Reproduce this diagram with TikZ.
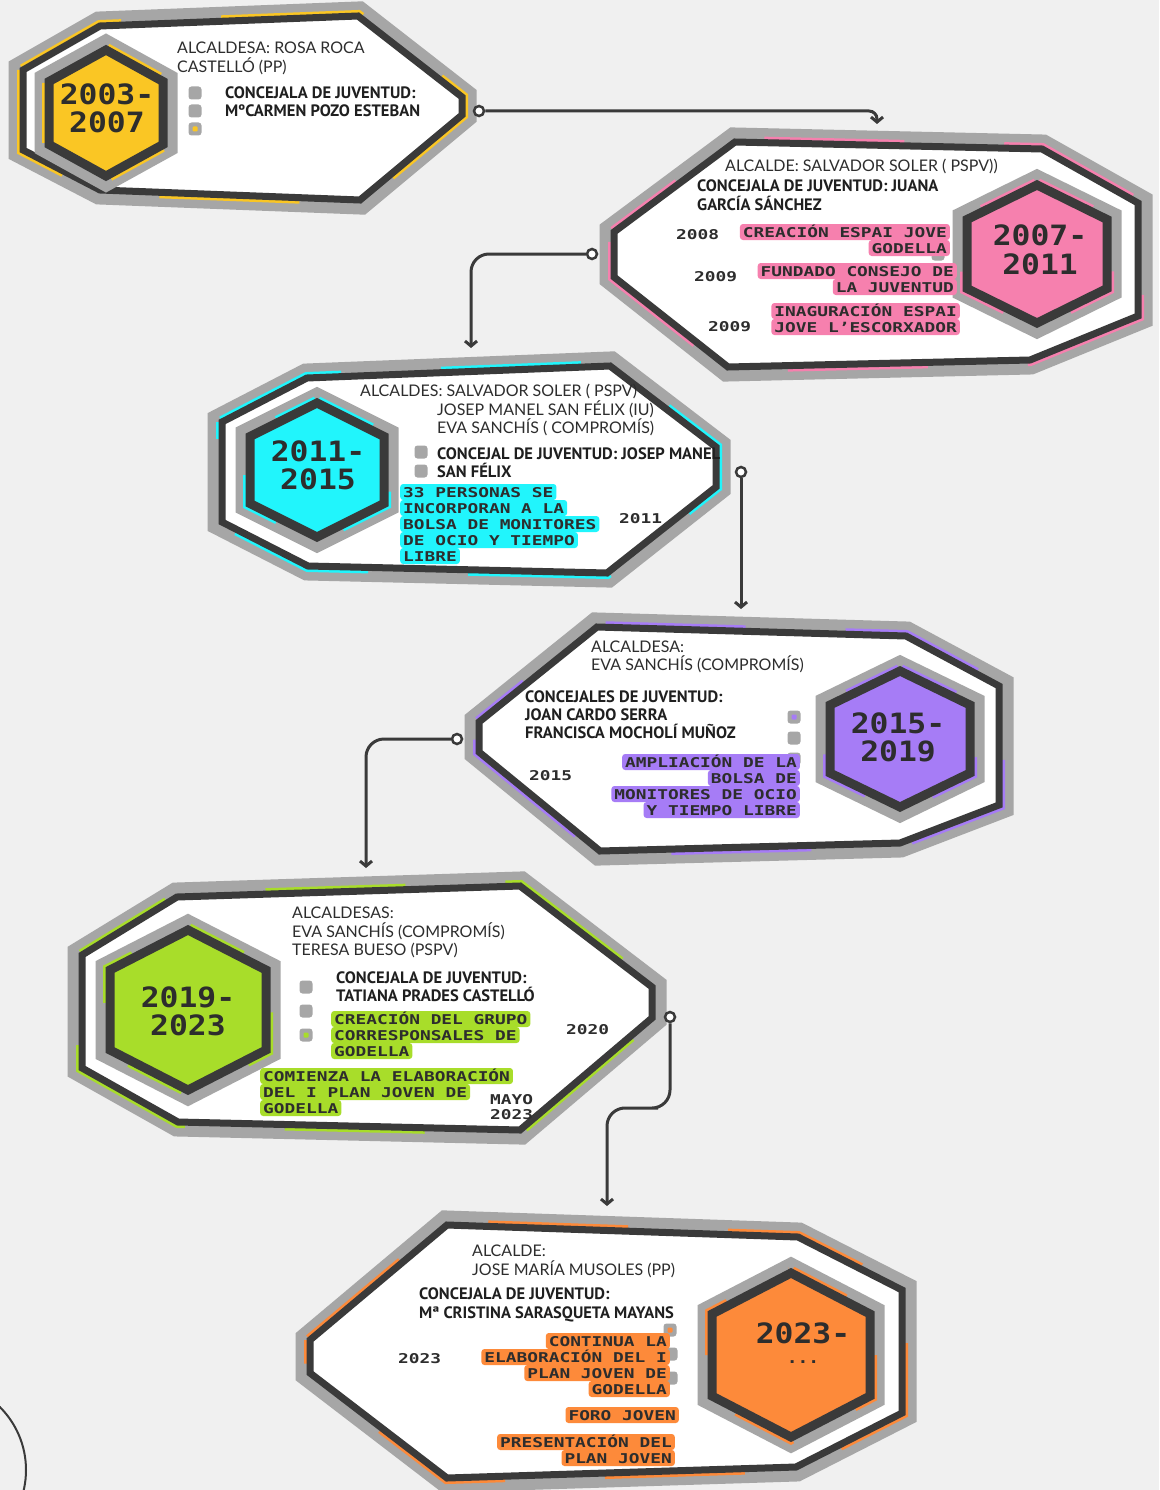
\documentclass[tikz,border=0pt]{standalone}
\usepackage{fontspec}
\setmainfont{Lato}
\newfontfamily\ptsans{PT Sans}
\newfontfamily\techf{DejaVu Sans Mono}[FakeStretch=1.32]
\newfontfamily\yearf{DejaVu Sans Mono}[FakeStretch=1.12]
\usetikzlibrary{arrows.meta}
\definecolor{bg}{RGB}{240,240,240}
\definecolor{bandgray}{RGB}{166,166,166}
\definecolor{darkband}{RGB}{58,58,58}
\definecolor{txt}{RGB}{45,45,45}
\definecolor{yel}{RGB}{250,198,36}
\definecolor{pnk}{RGB}{246,128,174}
\definecolor{cya}{RGB}{33,245,252}
\definecolor{pur}{RGB}{166,124,246}
\definecolor{grn}{RGB}{168,221,42}
\definecolor{org}{RGB}{253,138,58}
\newcommand\drawpanel[3]{%
 \draw[line width=29pt,draw=bandgray,line join=miter] #1 -- cycle;
 \draw[line width=12pt,draw=#2,dash pattern=on 140pt off 100pt,dash phase=#3] #1 -- cycle;
 \fill[white] #1 -- cycle;
 \draw[line width=7pt,draw=darkband,line join=miter] #1 -- cycle;}
\newcommand\drawbadge[5]{%
 \draw[line width=29pt,draw=bandgray,line join=miter] (#1,#2-#4) -- (#1+#3,#2-#4/2) -- (#1+#3,#2+#4/2) -- (#1,#2+#4) -- (#1-#3,#2+#4/2) -- (#1-#3,#2-#4/2) -- cycle;
 \draw[line width=14pt,draw=#5,dash pattern=on 60pt off 70pt] (#1,#2-#4) -- (#1+#3,#2-#4/2) -- (#1+#3,#2+#4/2) -- (#1,#2+#4) -- (#1-#3,#2+#4/2) -- (#1-#3,#2-#4/2) -- cycle;
 \fill[#5] (#1,#2-#4) -- (#1+#3,#2-#4/2) -- (#1+#3,#2+#4/2) -- (#1,#2+#4) -- (#1-#3,#2+#4/2) -- (#1-#3,#2-#4/2) -- cycle;
 \draw[line width=9pt,draw=darkband,line join=miter] (#1,#2-#4) -- (#1+#3,#2-#4/2) -- (#1+#3,#2+#4/2) -- (#1,#2+#4) -- (#1-#3,#2+#4/2) -- (#1-#3,#2-#4/2) -- cycle;}
\tikzset{
 reg/.style={font=\fontsize{16}{18}\selectfont, text=txt, anchor=base west, inner sep=0pt},
 bld/.style={font=\ptsans\bfseries\fontsize{16.5}{18}\selectfont, text=black!88, anchor=base west, inner sep=0pt},
 yr/.style={font=\techf\bfseries\fontsize{13.5}{15}\selectfont, text=txt, anchor=base west, inner sep=0pt, text height=10pt, text depth=0pt},
 hl/.style={fill=#1, rounded corners=3pt, font=\techf\bfseries\fontsize{13.5}{15}\selectfont, text=txt, inner xsep=3pt, inner ysep=3pt, text height=10pt, text depth=0pt},
 badgetxt/.style={font=\yearf\bfseries\fontsize{28}{28}\selectfont, text=txt, inner sep=0pt, text height=20pt, text depth=0pt},
 bullet/.style={fill=bandgray, rounded corners=3pt, minimum size=13pt, inner sep=0pt},
 dot/.style={fill=#1, rounded corners=1pt, minimum size=5pt, inner sep=0pt},
 ring/.style={circle, draw=darkband, line width=2.5pt, fill=white, minimum size=10pt, inner sep=0pt},
 conn/.style={draw=darkband, line width=3pt, -{Straight Barb[length=5pt,width=12pt]}}
}
\begin{document}
\begin{tikzpicture}[x=1pt,y=-1pt]
\useasboundingbox (0,0) rectangle (1159,1490);
\clip (0,0) rectangle (1159,1490);
\fill[bg] (0,0) rectangle (1159,1490);

% ---------- panels ----------
\drawpanel{(23,70) -- (100,26) -- (358,16) -- (462,97) -- (462,115) -- (360,200) -- (100,190) -- (23,150)}{yel}{30pt}
\drawbadge{106}{113}{57}{63}{yel}

\drawpanel{(614,232) -- (735,142) -- (1042,149) -- (1138,203) -- (1138,316) -- (1030,360) -- (728,367) -- (614,277)}{pnk}{60pt}
\drawbadge{1037}{254}{70}{69}{pnk}

\drawpanel{(222,422) -- (307,378) -- (610,366) -- (716,447) -- (716,487) -- (607,573) -- (308,566) -- (222,522)}{cya}{10pt}
\drawbadge{317}{470}{67}{67}{cya}

\drawpanel{(479,722) -- (597,627) -- (906,636) -- (999,686) -- (999,805) -- (900,843) -- (600,851) -- (479,752)}{pur}{80pt}
\drawbadge{900}{739}{70}{68}{pur}

\drawpanel{(82,955) -- (177,897) -- (520,886) -- (652,987) -- (652,1018) -- (520,1130) -- (178,1122) -- (82,1068)}{grn}{40pt}
\drawbadge{188}{1010}{78}{80}{grn}

\drawpanel{(310,1340) -- (447,1225) -- (798,1237) -- (902,1290) -- (902,1413) -- (796,1467) -- (447,1478) -- (310,1373)}{org}{20pt}
\drawbadge{791}{1355}{79}{82}{org}

% ---------- panel 1 ----------
\node[badgetxt] (y1a) at (107,95) {2003-};
\node[badgetxt] (y1b) at (107,123) {2007};
\node[reg] (p1a) at (177,54) {ALCALDESA: ROSA ROCA};
\node[reg] (p1b) at (177,73) {CASTELLÓ (PP)};
\node[bullet] (q1a) at (195,93) {};
\node[bullet] (q1b) at (195,111) {};
\node[bullet] (q1c) at (195,129) {};
\node[dot=yel] (d1) at (195,129) {};
\node[bld] (p1c) at (225,99) {CONCEJALA DE JUVENTUD:};
\node[bld] (p1d) at (225,117) {MºCARMEN POZO ESTEBAN};

% ---------- panel 2 ----------
\node[badgetxt] (y2a) at (1040,235) {2007-};
\node[badgetxt] (y2b) at (1040,264) {2011};
\node[reg] (p2a) at (725,172) {ALCALDE: SALVADOR SOLER ( PSPV))};
\node[bld] (p2b) at (697,192) {CONCEJALA DE JUVENTUD: JUANA};
\node[bld] (p2c) at (697,211) {GARCÍA SÁNCHEZ};
\node[bullet] (q2a) at (938,254) {};
\node[yr] (l2a) at (676,239) {2008};
\node[hl=pnk, anchor=east] (h2a) at (950,232) {CREACIÓN ESPAI JOVE};
\node[hl=pnk, anchor=east] (h2b) at (950,248) {GODELLA};
\node[yr] (l2b) at (694,281) {2009};
\node[hl=pnk, anchor=east] (h2c) at (957,271) {FUNDADO CONSEJO DE};
\node[hl=pnk, anchor=east] (h2d) at (957,287) {LA JUVENTUD};
\node[yr] (l2c) at (708,331) {2009};
\node[hl=pnk, anchor=east] (h2e) at (960,311) {INAGURACIÓN ESPAI};
\node[hl=pnk, anchor=east] (h2f) at (960,327) {JOVE L’ESCORXADOR};

% ---------- panel 3 ----------
\node[badgetxt] (y3a) at (318,451) {2011-};
\node[badgetxt] (y3b) at (318,479) {2015};
\node[reg] (p3a) at (360,396) {ALCALDES: SALVADOR SOLER ( PSPV)};
\node[reg] (p3b) at (437,415) {JOSEP MANEL SAN FÉLIX (IU)};
\node[reg] (p3c) at (437,433) {EVA SANCHÍS ( COMPROMÍS)};
\node[bullet] (q3a) at (421,452) {};
\node[bullet] (q3b) at (421,471) {};
\node[bld] (p3d) at (437,459) {CONCEJAL DE JUVENTUD: JOSEP MANEL};
\node[bld] (p3e) at (437,477) {SAN FÉLIX};
\node[hl=cya, anchor=west] (h3a) at (400,492) {33 PERSONAS SE};
\node[hl=cya, anchor=west] (h3b) at (400,508) {INCORPORAN A LA};
\node[hl=cya, anchor=west] (h3c) at (400,524) {BOLSA DE MONITORES};
\node[hl=cya, anchor=west] (h3d) at (400,540) {DE OCIO Y TIEMPO};
\node[hl=cya, anchor=west] (h3e) at (400,556) {LIBRE};
\node[yr] (l3a) at (619,523) {2011};

% ---------- panel 4 ----------
\node[badgetxt] (y4a) at (898,723) {2015-};
\node[badgetxt] (y4b) at (898,751) {2019};
\node[reg] (p4a) at (591,652) {ALCALDESA:};
\node[reg] (p4b) at (591,670) {EVA SANCHÍS (COMPROMÍS)};
\node[bld] (p4c) at (525,702) {CONCEJALES DE JUVENTUD:};
\node[bld] (p4d) at (525,720) {JOAN CARDO SERRA};
\node[bld] (p4e) at (525,738) {FRANCISCA MOCHOLÍ MUÑOZ};
\node[bullet] (q4a) at (794,717) {};
\node[dot=pur] (d4) at (794,717) {};
\node[bullet] (q4b) at (794,738) {};
\node[bullet] (q4c) at (794,759) {};
\node[yr] (l4a) at (529,780) {2015};
\node[hl=pur, anchor=east] (h4a) at (800,762) {AMPLIACIÓN DE LA};
\node[hl=pur, anchor=east] (h4b) at (800,778) {BOLSA DE};
\node[hl=pur, anchor=east] (h4c) at (800,794) {MONITORES DE OCIO};
\node[hl=pur, anchor=east] (h4d) at (800,810) {Y TIEMPO LIBRE};

% ---------- panel 5 ----------
\node[badgetxt] (y5a) at (188,997) {2019-};
\node[badgetxt] (y5b) at (188,1025) {2023};
\node[reg] (p5a) at (292,918) {ALCALDESAS:};
\node[reg] (p5b) at (292,937) {EVA SANCHÍS (COMPROMÍS)};
\node[reg] (p5c) at (292,955) {TERESA BUESO (PSPV)};
\node[bullet] (q5a) at (306,987) {};
\node[bullet] (q5b) at (306,1011) {};
\node[bullet] (q5c) at (306,1035) {};
\node[dot=grn] (d5) at (306,1035) {};
\node[bld] (p5d) at (336,983) {CONCEJALA DE JUVENTUD:};
\node[bld] (p5e) at (336,1001) {TATIANA PRADES CASTELLÓ};
\node[hl=grn, anchor=west] (h5a) at (331,1019) {CREACIÓN DEL GRUPO};
\node[hl=grn, anchor=west] (h5b) at (331,1035) {CORRESPONSALES DE};
\node[hl=grn, anchor=west] (h5c) at (331,1051) {GODELLA};
\node[yr] (l5a) at (566,1034) {2020};
\node[hl=grn, anchor=west] (h5d) at (260,1076) {COMIENZA LA ELABORACIÓN};
\node[hl=grn, anchor=west] (h5e) at (260,1092) {DEL I PLAN JOVEN DE};
\node[hl=grn, anchor=west] (h5f) at (260,1108) {GODELLA};
\node[yr] (l5b) at (490,1104) {MAYO};
\node[yr] (l5c) at (490,1119) {2023};

% ---------- panel 6 ----------
\node[badgetxt] (y6a) at (803,1333) {2023-};
\node[font=\yearf\bfseries\fontsize{16}{16}\selectfont, text=txt, inner sep=0pt] (y6b) at (803,1362) {...};
\node[reg] (p6a) at (472,1256) {ALCALDE:};
\node[reg] (p6b) at (472,1275) {JOSE MARÍA MUSOLES (PP)};
\node[bld] (p6c) at (419,1299) {CONCEJALA DE JUVENTUD:};
\node[bld] (p6d) at (419,1318) {Mª CRISTINA SARASQUETA MAYANS};
\node[bullet] (q6a) at (670,1330) {};
\node[dot=org] (d6) at (670,1330) {};
\node[bullet] (q6b) at (671,1354) {};
\node[bullet] (q6c) at (671,1378) {};
\node[yr] (l6a) at (398,1363) {2023};
\node[hl=org, anchor=east] (h6a) at (670,1341) {CONTINUA LA};
\node[hl=org, anchor=east] (h6b) at (670,1357) {ELABORACIÓN DEL I};
\node[hl=org, anchor=east] (h6c) at (670,1373) {PLAN JOVEN DE};
\node[hl=org, anchor=east] (h6d) at (670,1389) {GODELLA};
\node[hl=org, anchor=east] (h6e) at (679,1415) {FORO JOVEN};
\node[hl=org, anchor=east] (h6f) at (675,1442) {PRESENTACIÓN DEL};
\node[hl=org, anchor=east] (h6g) at (675,1458) {PLAN JOVEN};

% ---------- connectors ----------
\coordinate (e1) at (877,124);
\coordinate (e2) at (471,348);
\coordinate (e3) at (741,609);
\coordinate (e4) at (366,868);
\coordinate (m5) at (640,1108);
\coordinate (e5) at (607,1206);
\node[ring] (r1) at (479,111) {};
\node[ring] (r2) at (592,254) {};
\node[ring] (r3) at (741,472) {};
\node[ring] (r4) at (457,739) {};
\node[ring] (r5) at (670,1017) {};
\draw[conn, rounded corners=8pt] (r1.east) -| (e1);
\draw[conn, rounded corners=18pt] (r2.west) -| (e2);
\draw[conn] (r3.south) -- (e3);
\draw[conn, rounded corners=18pt] (r4.west) -| (e4);
\draw[conn, rounded corners=18pt] (r5.south) |- (m5) -| (e5);

% ---------- partial circle at bottom left ----------
\draw[darkband, line width=2pt] (-63,1470) circle (89pt);
\end{tikzpicture}
\end{document}
